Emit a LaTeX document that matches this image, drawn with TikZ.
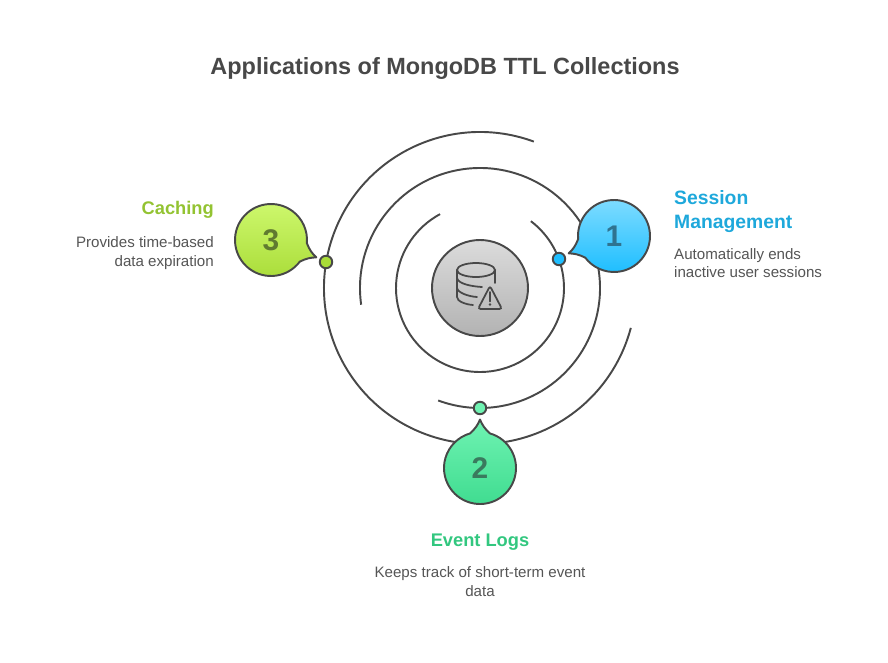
\documentclass[tikz,border=0pt]{standalone}
\usepackage{fontspec}
\setmainfont{Liberation Sans}
\definecolor{ink}{HTML}{484848}
\definecolor{textgray}{HTML}{555555}
\definecolor{sessionblue}{HTML}{1EA8DB}
\definecolor{cachegreen}{HTML}{93C332}
\definecolor{eventgreen}{HTML}{32C77F}
\definecolor{blueup}{HTML}{7FDCFF}
\definecolor{bluedown}{HTML}{1EBEFF}
\definecolor{mintup}{HTML}{6FF3B2}
\definecolor{mintdown}{HTML}{3EDB8F}
\definecolor{limeup}{HTML}{CFF96F}
\definecolor{limedown}{HTML}{A9DC38}
\definecolor{numblue}{HTML}{2F7390}
\definecolor{nummint}{HTML}{3A7A5E}
\definecolor{numlime}{HTML}{607A30}
\tikzset{
	ring/.style={ink, line width=1.1pt},
	dot/.style={circle, draw=ink, line width=1.1pt, minimum size=0.25cm, inner sep=0pt},
	bubble/.style={draw=ink, line width=1.1pt, line join=round},
	icon/.style={ink, line width=1pt, line cap=round},
	heading/.style={font=\fontsize{11}{13.6}\selectfont\bfseries},
	shorthead/.style={font=\fontsize{10.4}{13.6}\selectfont\bfseries},
	note/.style={font=\fontsize{8.6}{10.4}\selectfont, text=textgray},
	numeral/.style={font=\fontsize{17}{20}\selectfont\bfseries},
}
% bubble with its tip: centre, tip direction, top colour, bottom colour
\newcommand{\callout}[4]{
	\shade[bubble, top color=#3, bottom color=#4, shift={#1}, rotate=#2]
	  (-16:0.72) arc (-16:-344:0.72)
	  .. controls (0.79,0.09) and (0.87,0.04) .. (0.97,0)
	  .. controls (0.87,-0.04) and (0.79,-0.09) .. (-16:0.72)
	  -- cycle;
}
\begin{document}
\begin{tikzpicture}
	\useasboundingbox (-9.6,5.76) rectangle (8.16,-7.48);
	\node[font=\fontsize{13.35}{16}\selectfont\bfseries, text=ink] (title) at (-0.70,4.40) {Applications of MongoDB TTL Collections};

	\draw[ring] (52.7:1.68) arc (52.7:-241.6:1.68);
	\draw[ring] (188:2.4) arc (188:-110.4:2.4);
	\draw[ring] (69.8:3.12) arc (69.8:345.2:3.12);

	\shade[top color=black!14, bottom color=black!30, draw=ink, line width=1.1pt] (0,0) circle (0.96);
	% database and warning sign
	\draw[icon] (-0.08,0.36) ellipse (0.38 and 0.14);
	\draw[icon] (-0.46,0.36) -- (-0.46,-0.18) .. controls (-0.46,-0.27) and (-0.28,-0.33) .. (-0.14,-0.34);
	\draw[icon] (-0.46,0.20) .. controls (-0.44,0.08) and (-0.15,0.03) .. (0.04,0.02);
	\draw[icon] (-0.46,0) .. controls (-0.44,-0.10) and (-0.22,-0.17) .. (-0.06,-0.18);
	\draw[icon] (0.30,0.36) -- (0.30,0.10);
	\draw[icon, rounded corners=1.5pt] (0.20,0.04) -- (0.44,-0.42) -- (-0.04,-0.42) -- cycle;
	\draw[icon] (0.20,-0.08) -- (0.20,-0.27);
	\fill[ink] (0.20,-0.33) circle (0.026);

	\callout{(2.68,1.04)}{201}{blueup}{bluedown}
	\callout{(0,-3.6)}{90}{mintup}{mintdown}
	\callout{(-4.18,0.96)}{-21}{limeup}{limedown}

	\node[numeral, text=numblue] (numone) at (2.68,1.04) {1};
	\node[numeral, text=nummint] (numtwo) at (0,-3.6) {2};
	\node[numeral, text=numlime] (numthree) at (-4.18,0.96) {3};

	\node[dot, fill=bluedown] (dotone) at (1.58,0.58) {};
	\node[dot, fill=mintup] (dottwo) at (0,-2.4) {};
	\node[dot, fill=limedown] (dotthree) at (-3.08,0.52) {};

	\node[heading, text=sessionblue, align=left, anchor=north west] (headone) at (3.76,2.07) {Session\\Management};
	\node[note, align=left, anchor=north west] (noteone) at (3.76,0.92) {Automatically ends\\inactive user sessions};
	\node[shorthead, text=eventgreen] (headtwo) at (0,-5.08) {Event Logs};
	\node[note, align=center] (notetwo) at (0,-5.87) {Keeps track of short-term event\\data};
	\node[shorthead, text=cachegreen, anchor=east] (headthree) at (-5.20,1.56) {Caching};
	\node[note, align=right, anchor=east] (notethree) at (-5.20,0.70) {Provides time-based\\data expiration};
\end{tikzpicture}
\end{document}
